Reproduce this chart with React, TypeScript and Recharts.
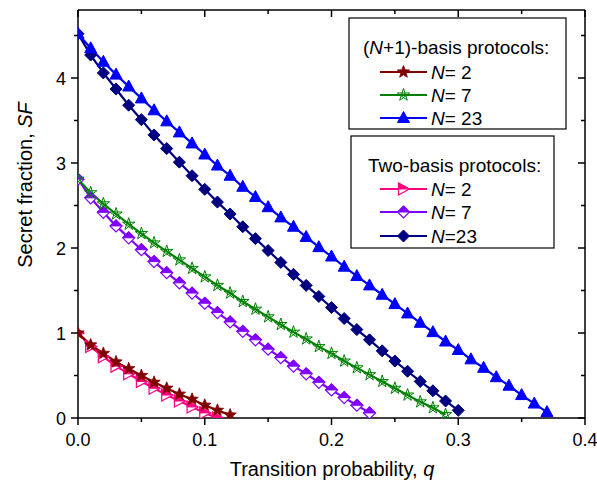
import React from "react";
import { LineChart, Line, XAxis, YAxis } from "recharts";

// transition probability grid (step 0.01)
const qValues = [
  0, 0.01, 0.02, 0.03, 0.04, 0.05, 0.06, 0.07, 0.08, 0.09, 0.1, 0.11, 0.12, 0.13, 0.14, 0.15, 0.16, 0.17, 0.18,
  0.19, 0.2, 0.21, 0.22, 0.23, 0.24, 0.25, 0.26, 0.27, 0.28, 0.29, 0.3, 0.31, 0.32, 0.33, 0.34, 0.35, 0.36, 0.37,
];

// (N+1)-basis protocols
const plusN2 = [1.0, 0.86, 0.76, 0.66, 0.58, 0.5, 0.42, 0.35, 0.28, 0.22, 0.15, 0.09, 0.035];
const plusN7 = [
  2.81, 2.65, 2.52, 2.4, 2.28, 2.17, 2.06, 1.96, 1.86, 1.76, 1.66, 1.56, 1.47, 1.37, 1.28, 1.19, 1.1, 1.01, 0.93,
  0.84, 0.76, 0.67, 0.59, 0.51, 0.43, 0.35, 0.27, 0.19, 0.12, 0.04,
];
const plusN23 = [
  4.52, 4.35, 4.19, 4.04, 3.9, 3.76, 3.62, 3.49, 3.36, 3.23, 3.1, 2.97, 2.85, 2.72, 2.6, 2.48, 2.36, 2.25, 2.13,
  2.01, 1.9, 1.78, 1.67, 1.56, 1.45, 1.34, 1.23, 1.12, 1.01, 0.9, 0.8, 0.69, 0.59, 0.48, 0.38, 0.27, 0.17, 0.07,
];

// two-basis protocols
const twoN2 = [1.0, 0.84, 0.72, 0.61, 0.52, 0.43, 0.35, 0.27, 0.2, 0.13, 0.06, 0.0];
const twoN7 = [
  2.81, 2.59, 2.42, 2.26, 2.12, 1.98, 1.84, 1.71, 1.59, 1.47, 1.35, 1.24, 1.13, 1.02, 0.92, 0.81, 0.71, 0.61,
  0.52, 0.42, 0.33, 0.24, 0.15, 0.06,
];
const twoN23 = [
  4.52, 4.27, 4.06, 3.87, 3.68, 3.51, 3.33, 3.17, 3.01, 2.85, 2.69, 2.54, 2.4, 2.25, 2.11, 1.97, 1.83, 1.69, 1.56,
  1.43, 1.3, 1.17, 1.04, 0.92, 0.79, 0.67, 0.55, 0.43, 0.32, 0.2, 0.09,
];

const xTicks = [0, 0.05, 0.1, 0.15, 0.2, 0.25, 0.3, 0.35, 0.4];
const yTicks = [0, 0.5, 1, 1.5, 2, 2.5, 3, 3.5, 4, 4.5];

const FONT = "'Liberation Sans', Arial, sans-serif";

const C_DARKRED = "#800000";
const C_GREEN = "#008000";
const C_BLUE = "#0000ff";
const C_PINK = "#ff0080";
const C_PURPLE = "#8000ff";
const C_NAVY = "#000080";

const toPoints = (values: number[]) => values.map((sf, i) => ({ q: qValues[i], sf }));

type Kind = "star" | "pentagram" | "triangle" | "halfTri" | "halfDiamond" | "diamond";

function starPoints(cx: number, cy: number, ro: number, ri: number) {
  const pts: string[] = [];
  for (let k = 0; k < 10; k++) {
    const r = k % 2 === 0 ? ro : ri;
    const a = -Math.PI / 2 + (k * Math.PI) / 5;
    pts.push(`${cx + r * Math.cos(a)},${cy + r * Math.sin(a)}`);
  }
  return pts.join(" ");
}

function Marker({ kind, cx, cy, color }: { kind: Kind; cx: number; cy: number; color: string }) {
  if (kind === "star") {
    return <polygon points={starPoints(cx, cy, 6.5, 2.8)} fill={color} stroke={color} strokeWidth={0.8} />;
  }
  if (kind === "pentagram") {
    const p = [0, 2, 4, 1, 3].map((k) => {
      const a = -Math.PI / 2 + (k * 2 * Math.PI) / 5;
      return `${cx + 6.5 * Math.cos(a)},${cy + 6.5 * Math.sin(a)}`;
    });
    return <polygon points={p.join(" ")} fill="none" stroke={color} strokeWidth={1} />;
  }
  if (kind === "triangle") {
    return <polygon points={`${cx},${cy - 6.5} ${cx + 6},${cy + 4.5} ${cx - 6},${cy + 4.5}`} fill={color} stroke={color} />;
  }
  if (kind === "halfTri") {
    return (
      <g>
        <polygon points={`${cx - 5},${cy - 6} ${cx + 6},${cy} ${cx - 5},${cy + 6}`} fill="#fff" stroke={color} strokeWidth={1.2} />
        <polygon points={`${cx - 5},${cy - 6} ${cx + 6},${cy} ${cx - 5},${cy}`} fill={color} stroke={color} strokeWidth={1} />
      </g>
    );
  }
  if (kind === "halfDiamond") {
    return (
      <g>
        <polygon points={`${cx},${cy - 6} ${cx + 6},${cy} ${cx},${cy + 6} ${cx - 6},${cy}`} fill="#fff" stroke={color} strokeWidth={1.2} />
        <polygon points={`${cx},${cy - 6} ${cx + 6},${cy} ${cx - 6},${cy}`} fill={color} stroke={color} strokeWidth={1} />
      </g>
    );
  }
  return <polygon points={`${cx},${cy - 6} ${cx + 6},${cy} ${cx},${cy + 6} ${cx - 6},${cy}`} fill={color} stroke={color} />;
}

const dotFor = (id: string, kind: Kind, color: string) => (p: any) => (
  <Marker key={`${id}-${p.index}`} kind={kind} cx={p.cx} cy={p.cy} color={color} />
);

const isMajor = (v: number, step: number) => Math.abs(v / step - Math.round(v / step)) < 1e-6;

function BottomTick(p: any) {
  const v = p.payload.value;
  const major = isMajor(v, 0.1);
  return (
    <g>
      <line x1={p.x} x2={p.x} y1={p.y} y2={p.y + (major ? 7 : 4)} stroke="#000" strokeWidth={1.5} />
      {major && (
        <text x={p.x} y={p.y + 28} textAnchor="middle" fontSize={18} fontFamily={FONT} fill="#000">
          {v.toFixed(1)}
        </text>
      )}
    </g>
  );
}

function TopTick(p: any) {
  const major = isMajor(p.payload.value, 0.1);
  return <line x1={p.x} x2={p.x} y1={p.y} y2={p.y + (major ? 7 : 4)} stroke="#000" strokeWidth={1.5} />;
}

function LeftTick(p: any) {
  const v = p.payload.value;
  const major = isMajor(v, 1);
  return (
    <g>
      <line x1={p.x} x2={p.x - (major ? 7 : 4)} y1={p.y} y2={p.y} stroke="#000" strokeWidth={1.5} />
      {major && (
        <text x={p.x - 12} y={p.y + 6.5} textAnchor="end" fontSize={18} fontFamily={FONT} fill="#000">
          {v}
        </text>
      )}
    </g>
  );
}

function RightTick(p: any) {
  const major = isMajor(p.payload.value, 1);
  return <line x1={p.x} x2={p.x - (major ? 7 : 4)} y1={p.y} y2={p.y} stroke="#000" strokeWidth={1.5} />;
}

function LegendRow({ y, kind, color, label }: { y: number; kind: Kind; color: string; label: string }) {
  return (
    <g>
      <line x1={380} x2={427} y1={y} y2={y} stroke={color} strokeWidth={2.2} />
      <Marker kind={kind} cx={403.5} cy={y} color={color} />
      <text x={431} y={y + 7} fontSize={19} fontFamily={FONT} fill="#000">
        <tspan fontStyle="italic">N</tspan>
        {label}
      </text>
    </g>
  );
}

export default function App() {
  const axisLine = { stroke: "#000", strokeWidth: 1.5 };
  return (
    <div style={{ position: "absolute", left: 0, top: 0, width: 597, height: 482, background: "#fff" }}>
      <LineChart width={597} height={482} margin={{ top: 0, right: 0, bottom: 0, left: 0 }}>
        <XAxis
          type="number"
          dataKey="q"
          domain={[0, 0.4]}
          ticks={xTicks}
          interval={0}
          allowDataOverflow
          height={64}
          tickSize={0}
          tickMargin={0}
          tickLine={false}
          axisLine={axisLine}
          tick={BottomTick}
        />
        <XAxis
          xAxisId="top"
          orientation="top"
          type="number"
          dataKey="q"
          domain={[0, 0.4]}
          ticks={xTicks}
          interval={0}
          allowDataOverflow
          height={10}
          tickSize={0}
          tickMargin={0}
          tickLine={false}
          axisLine={axisLine}
          tick={TopTick}
        />
        <YAxis
          type="number"
          domain={[0, 4.8]}
          ticks={yTicks}
          interval={0}
          allowDataOverflow
          width={78}
          tickSize={0}
          tickMargin={0}
          tickLine={false}
          axisLine={axisLine}
          tick={LeftTick}
        />
        <YAxis
          yAxisId="right"
          orientation="right"
          type="number"
          domain={[0, 4.8]}
          ticks={yTicks}
          interval={0}
          allowDataOverflow
          width={12}
          tickSize={0}
          tickMargin={0}
          tickLine={false}
          axisLine={axisLine}
          tick={RightTick}
        />
        {/* invisible copy bound to the mirrored top/right axes so they get drawn */}
        <Line
          xAxisId="top"
          yAxisId="right"
          data={toPoints(plusN23)}
          dataKey="sf"
          stroke="none"
          dot={false}
          activeDot={false}
          legendType="none"
          isAnimationActive={false}
        />
        <Line data={toPoints(twoN2)} dataKey="sf" type="linear" stroke={C_PINK} strokeWidth={2.2} dot={dotFor("t2", "halfTri", C_PINK)} isAnimationActive={false} />
        <Line data={toPoints(plusN2)} dataKey="sf" type="linear" stroke={C_DARKRED} strokeWidth={2.2} dot={dotFor("p2", "star", C_DARKRED)} isAnimationActive={false} />
        <Line data={toPoints(twoN7)} dataKey="sf" type="linear" stroke={C_PURPLE} strokeWidth={2.2} dot={dotFor("t7", "halfDiamond", C_PURPLE)} isAnimationActive={false} />
        <Line data={toPoints(plusN7)} dataKey="sf" type="linear" stroke={C_GREEN} strokeWidth={2.2} dot={dotFor("p7", "pentagram", C_GREEN)} isAnimationActive={false} />
        <Line data={toPoints(twoN23)} dataKey="sf" type="linear" stroke={C_NAVY} strokeWidth={2.2} dot={dotFor("t23", "diamond", C_NAVY)} isAnimationActive={false} />
        <Line data={toPoints(plusN23)} dataKey="sf" type="linear" stroke={C_BLUE} strokeWidth={2.2} dot={dotFor("p23", "triangle", C_BLUE)} isAnimationActive={false} />
      </LineChart>

      <svg width={597} height={482} style={{ position: "absolute", left: 0, top: 0, pointerEvents: "none" }}>
        <text
          x={32}
          y={185}
          textAnchor="middle"
          fontSize={20}
          fontFamily={FONT}
          transform="rotate(-90, 32, 185)"
          fill="#000"
        >
          Secret fraction, <tspan fontStyle="italic">SF</tspan>
        </text>
        <text x={332} y={476} textAnchor="middle" fontSize={20} fontFamily={FONT} fill="#000">
          Transition probability, <tspan fontStyle="italic">q</tspan>
        </text>

        <rect x={349} y={18} width={217} height={111} fill="#fff" stroke="#000" strokeWidth={1.2} />
        <text x={363} y={54} fontSize={19} fontFamily={FONT} fill="#000">
          (<tspan fontStyle="italic">N</tspan>+1)-basis protocols:
        </text>
        <LegendRow y={72} kind="star" color={C_DARKRED} label="= 2" />
        <LegendRow y={95} kind="pentagram" color={C_GREEN} label="= 7" />
        <LegendRow y={118} kind="triangle" color={C_BLUE} label="= 23" />

        <rect x={351} y={136} width={203} height={112} fill="#fff" stroke="#000" strokeWidth={1.2} />
        <text x={368} y={172} fontSize={19} fontFamily={FONT} fill="#000">
          Two-basis protocols:
        </text>
        <LegendRow y={189} kind="halfTri" color={C_PINK} label="= 2" />
        <LegendRow y={212} kind="halfDiamond" color={C_PURPLE} label="= 7" />
        <LegendRow y={236} kind="diamond" color={C_NAVY} label="=23" />
      </svg>
    </div>
  );
}
